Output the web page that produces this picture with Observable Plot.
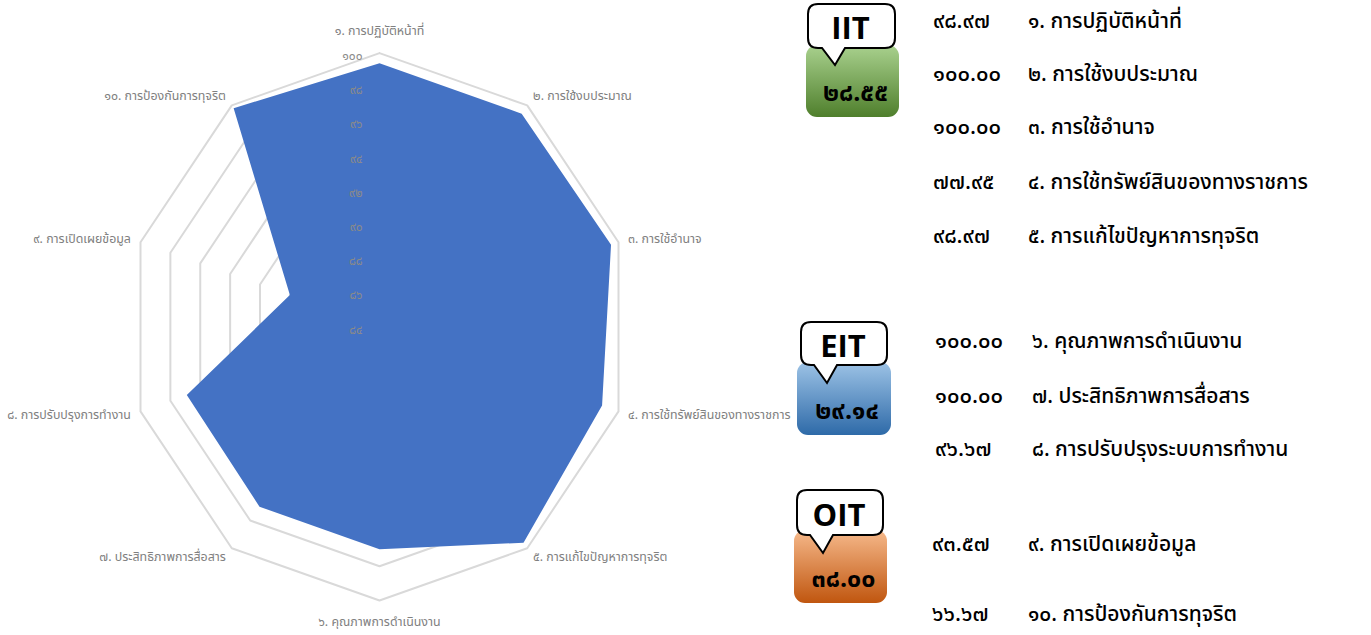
<!DOCTYPE html>
<html>
<head>
<meta charset="utf-8">
<script src="https://cdn.jsdelivr.net/npm/d3@7"></script>
<script src="https://cdn.jsdelivr.net/npm/@observablehq/plot@0.6"></script>
<style>
  html, body { margin: 0; padding: 0; background: #fff; }
  body { width: 1371px; height: 635px; position: relative; overflow: hidden;
         font-family: "Noto Sans Thai", "Leelawadee UI", Tahoma, "Noto Sans", sans-serif; }
  #chart { position: absolute; left: 0; top: 0; }
  .row { position: absolute; font-size: 21px; color: #000; white-space: nowrap; line-height: 1; font-weight: 500; }
  .badge { position: absolute; left: 0; top: 0; }
</style>
</head>
<body>
<div id="chart"></div>
<div id="panel"></div>
<script>
// ---------- data ----------
const categories = ["การปฏิบัติหน้าที่", "การใช้งบประมาณ", "การใช้อำนาจ", "การใช้ทรัพย์สินของทางราชการ",
  "การแก้ไขปัญหาการทุจริต", "คุณภาพการดำเนินงาน", "ประสิทธิภาพการสื่อสาร", "การปรับปรุงการทำงาน",
  "การเปิดเผยข้อมูล", "การป้องกันการทุจริต"];
const chartValues = [99.4, 99.4, 99.5, 98.9, 99.6, 97.0, 97.0, 96.9, 90.0, 99.8];
const radialTicks = [84, 86, 88, 90, 92, 94, 96, 98, 100];
const tableLabels = ["การปฏิบัติหน้าที่", "การใช้งบประมาณ", "การใช้อำนาจ", "การใช้ทรัพย์สินของทางราชการ",
  "การแก้ไขปัญหาการทุจริต", "คุณภาพการดำเนินงาน", "ประสิทธิภาพการสื่อสาร", "การปรับปรุงระบบการทำงาน",
  "การเปิดเผยข้อมูล", "การป้องกันการทุจริต"];
const tableValues = [98.97, 100.00, 100.00, 77.95, 98.97, 100.00, 100.00, 96.67, 93.57, 66.67];
const groups = ["IIT", "EIT", "OIT"];
const groupScores = [28.55, 29.14, 38.00];

// ---------- helpers ----------
const thaiDigits = "๐๑๒๓๔๕๖๗๘๙";
const toThai = s => String(s).replace(/[0-9]/g, d => thaiDigits[+d]);
const rMin = 84, rMax = 100;
const frac = v => (v - rMin) / (rMax - rMin);
const n = categories.length;
const ang = i => i * 2 * Math.PI / n;

const ringPts = [];
for (const t of radialTicks.filter(t => t > rMin)) {
  for (let i = 0; i <= n; i++) {
    const a = ang(i % n);
    ringPts.push({tick: t, x: frac(t) * Math.sin(a), y: frac(t) * Math.cos(a)});
  }
}
const polyPts = [];
for (let i = 0; i <= n; i++) {
  const a = ang(i % n), r = frac(chartValues[i % n]);
  polyPts.push({x: r * Math.sin(a), y: r * Math.cos(a)});
}
const labels = categories.map((c, i) => {
  const a = ang(i);
  const s = Math.sin(a);
  const group = Math.abs(s) < 0.01 ? "middle" : (s > 0 ? "start" : "end");
  const r = group === "middle" ? 1.08 : 1.04;
  return {text: toThai(i + 1) + ". " + c, x: r * s, y: r * Math.cos(a), group};
});

// ---------- layout ----------
const cx = 379, cy = 326.3, rx = 251.3, ry = 273.7;
const labelFont = "'Noto Sans Thai', 'Leelawadee UI', Tahoma, 'Noto Sans', sans-serif";

const chart = Plot.plot({
  width: 1371, height: 635, margin: 0,
  style: {fontFamily: labelFont, background: "transparent"},
  x: {domain: [-1, 1], range: [cx - rx, cx + rx], axis: null},
  y: {domain: [-1, 1], range: [cy + ry, cy - ry], axis: null},
  marks: [
    Plot.line(ringPts, {x: "x", y: "y", z: "tick", stroke: "#d9d9d9", strokeWidth: 2, curve: "linear"}),
    Plot.line(polyPts, {x: "x", y: "y", fill: "#4472C4", stroke: "none"}),
    Plot.text(radialTicks, {x: () => 0, y: d => frac(d), text: d => toThai(d), textAnchor: "end",
      dx: -17, dy: 3, fill: "#8a8a8a", fontSize: 12}),
    ...["middle", "start", "end"].map(g => Plot.text(labels.filter(d => d.group === g), {
      x: "x", y: "y", text: "text", textAnchor: g, fill: "#808080", fontSize: 12.4}))
  ]
});
document.getElementById("chart").appendChild(chart);

// ---------- right panel ----------
const panel = document.getElementById("panel");
const badgeLayout = [
  {bx: 806, by: 45, bw: 93, bh: 72, ux: 808, uy: 4, uw: 87, uh: 44, px: 835, py: 65, c1: "#a9d18e", c2: "#4f7f2c"},
  {bx: 797, by: 362, bw: 94, bh: 73, ux: 801, uy: 322, uw: 86, uh: 43, px: 827, py: 383, c1: "#9dc3e6", c2: "#2e6aa8"},
  {bx: 794, by: 530, bw: 93, bh: 73, ux: 797, uy: 490, uw: 86, uh: 45, px: 823, py: 553, c1: "#f6b98b", c2: "#c0560f"}
];
let svgParts = `<svg class="badge" width="1371" height="635" xmlns="http://www.w3.org/2000/svg"><defs>`;
badgeLayout.forEach((b, i) => {
  svgParts += `<linearGradient id="g${i}" x1="0" y1="0" x2="0" y2="1"><stop offset="0" stop-color="${b.c1}"/><stop offset="1" stop-color="${b.c2}"/></linearGradient>`;
});
svgParts += `</defs>`;
groups.forEach((g, i) => {
  const b = badgeLayout[i];
  svgParts += `<rect x="${b.bx}" y="${b.by}" width="${b.bw}" height="${b.bh}" rx="11" fill="url(#g${i})"/>`;
  const r = 10, x0 = b.ux, y0 = b.uy, x1 = b.ux + b.uw, y1 = b.uy + b.uh;
  const pl = b.px - 13, pr = b.px + 10;
  const d = `M${x0 + r},${y0} H${x1 - r} Q${x1},${y0} ${x1},${y0 + r} V${y1 - r} Q${x1},${y1} ${x1 - r},${y1} H${pr} L${b.px},${b.py} L${pl},${y1} H${x0 + r} Q${x0},${y1} ${x0},${y1 - r} V${y0 + r} Q${x0},${y0} ${x0 + r},${y0} Z`;
  svgParts += `<path d="${d}" fill="#fff" stroke="#000" stroke-width="2"/>`;
  svgParts += `<text x="${b.ux + b.uw / 2 - 1}" y="${b.uy + b.uh / 2 + 1}" text-anchor="middle" dominant-baseline="central" font-family="'Open Sans', 'Noto Sans', sans-serif" font-weight="bold" font-size="31" fill="#000">${g}</text>`;
  svgParts += `<text x="${b.bx + b.bw / 2 + 3}" y="${b.by + b.bh * 0.5 + 12}" text-anchor="middle" dominant-baseline="central" font-family="${labelFont.replace(/"/g, "")}" font-weight="bold" font-size="25" fill="#000">${toThai(groupScores[i].toFixed(2))}</text>`;
});
svgParts += `</svg>`;
panel.innerHTML = svgParts;

const rowY = [22, 75, 128, 183, 237, 342, 397, 450, 545, 615];
const numX = [933, 933, 933, 933, 933, 935, 935, 935, 932, 932];
const txtX = [1028, 1028, 1028, 1028, 1028, 1032, 1032, 1032, 1028, 1028];
tableLabels.forEach((t, i) => {
  const num = document.createElement("div");
  num.className = "row";
  num.style.left = numX[i] + "px";
  num.style.top = (rowY[i] - 11) + "px";
  num.style.fontSize = "22px";
  num.textContent = toThai(tableValues[i].toFixed(2));
  panel.appendChild(num);
  const lab = document.createElement("div");
  lab.className = "row";
  lab.style.left = txtX[i] + "px";
  lab.style.top = (rowY[i] - 11) + "px";
  lab.textContent = toThai(i + 1) + ". " + t;
  panel.appendChild(lab);
});
</script>
</body>
</html>
